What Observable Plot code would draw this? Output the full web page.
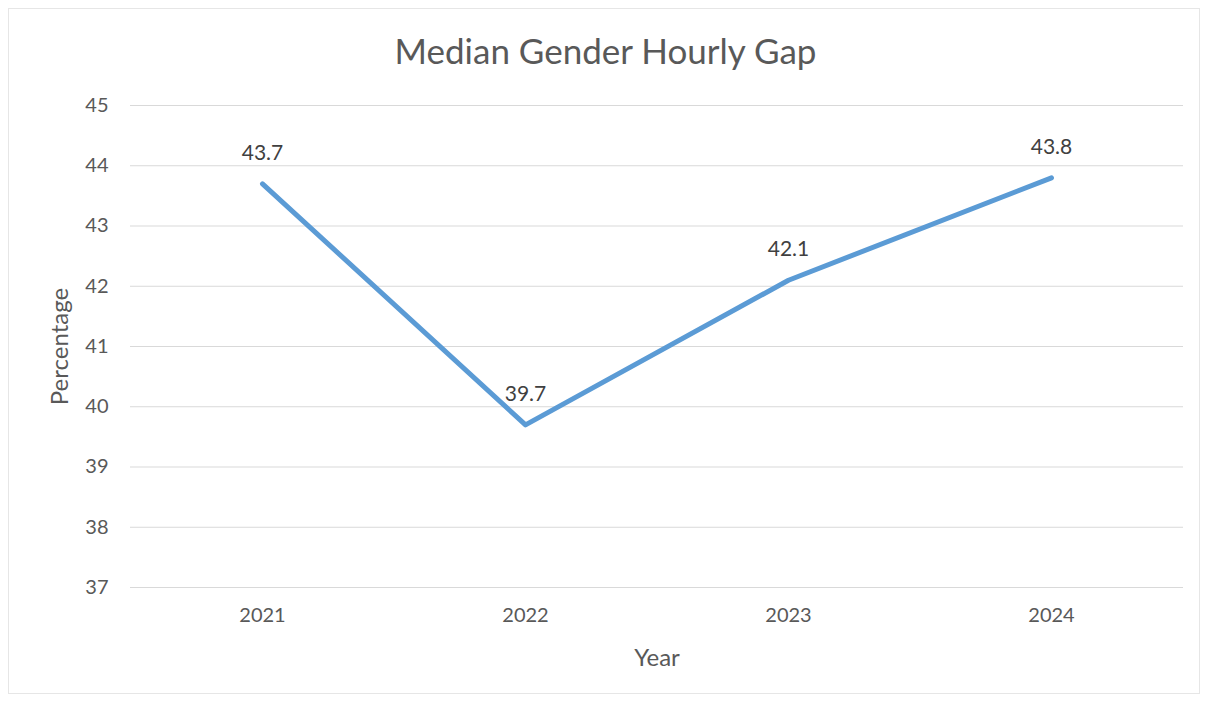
<!DOCTYPE html>
<html>
<head>
<meta charset="utf-8">
<script src="https://cdn.jsdelivr.net/npm/d3@7"></script>
<script src="https://cdn.jsdelivr.net/npm/@observablehq/plot@0.6"></script>
<style>
  html, body { margin: 0; padding: 0; background: #fff; }
  #wrap { position: relative; width: 1211px; height: 702px; font-family: Lato, "Open Sans", sans-serif; }
  #frame { position: absolute; left: 8px; top: 8px; width: 1192px; height: 686px; border: 1px solid #e6e6e6; box-sizing: border-box; pointer-events: none; }
  #title { height: 80px; line-height: 100px; text-align: center; font-size: 35px; color: #595959; }
</style>
</head>
<body>
<div id="wrap">
  <div id="frame"></div>
  <div id="title">Median Gender Hourly Gap</div>
  <div id="chart"></div>
</div>
<script>
const years = ["2021", "2022", "2023", "2024"];
const values = [43.7, 39.7, 42.1, 43.8];
const yTicks = [37, 38, 39, 40, 41, 42, 43, 44, 45];

const data = years.map((y, i) => ({year: y, value: values[i]}));

const chart = Plot.plot({
  width: 1211,
  height: 622,
  marginTop: 25,
  marginBottom: 115,
  marginLeft: 130,
  marginRight: 28,
  style: {fontFamily: "Lato, 'Open Sans', sans-serif", fontSize: "20px", color: "#595959", background: "transparent"},
  x: {type: "point", domain: years, padding: 0.5, label: null},
  y: {domain: [37, 45], ticks: yTicks, label: null},
  marks: [
    Plot.gridY(yTicks, {stroke: "#d9d9d9", strokeOpacity: 1, strokeWidth: 1}),
    Plot.axisY(yTicks, {tickSize: 0, tickPadding: 22, fontSize: 20, fill: "#595959", tickFormat: "d", label: null}),
    Plot.axisX({tickSize: 0, tickPadding: 20, fontSize: 20, fill: "#595959", label: null}),
    Plot.text(["Year"], {frameAnchor: "bottom", dy: 78, fontSize: 24, fill: "#595959"}),
    Plot.text(["Percentage"], {frameAnchor: "left", textAnchor: "middle", dx: -70, rotate: -90, fontSize: 24, fill: "#595959"}),
    Plot.line(data, {x: "year", y: "value", stroke: "#5B9BD5", strokeWidth: 5, strokeLinejoin: "round", strokeLinecap: "round"}),
    Plot.text(data, {x: "year", y: "value", text: d => d.value.toFixed(1), dy: -31, fontSize: 21, fill: "#404040"})
  ]
});
document.getElementById("chart").appendChild(chart);
</script>
</body>
</html>
